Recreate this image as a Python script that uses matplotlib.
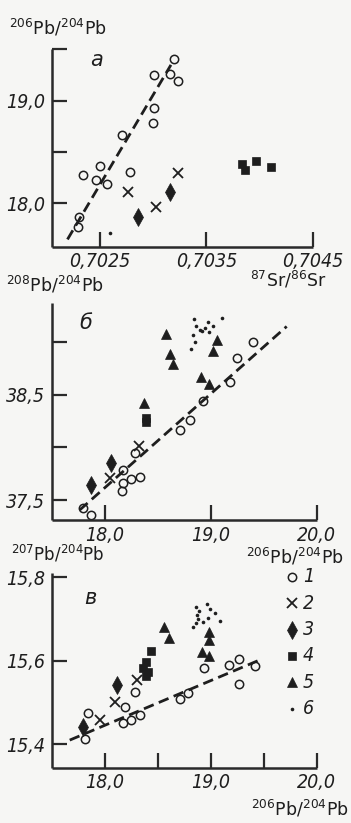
import matplotlib
matplotlib.use("Agg")
import matplotlib.pyplot as plt

plt.rcParams["font.family"] = ["DejaVu Sans"]
plt.rcParams["mathtext.fontset"] = "custom"
plt.rcParams["mathtext.rm"] = "Liberation Sans"

INK = "#1e1e1e"
BG = "#f6f6f4"

# ---- panel a: 206Pb/204Pb vs 87Sr/86Sr
a_x1 = [0.70320, 0.70301, 0.70316, 0.70323, 0.70301, 0.70300, 0.70271,
        0.70250, 0.70234, 0.70247, 0.70257, 0.70278, 0.70231, 0.70230]
a_y1 = [19.41, 19.245, 19.26, 19.19, 18.93, 18.78, 18.66,
        18.36, 18.27, 18.23, 18.19, 18.30, 17.86, 17.77]
a_x2 = [0.70277, 0.70303, 0.70323]
a_y2 = [18.11, 17.96, 18.29]
a_x3 = [0.70286, 0.70316]
a_y3 = [17.86, 18.11]
a_x4 = [0.70383, 0.70386, 0.70397, 0.70411]
a_y4 = [18.38, 18.32, 18.41, 18.35]
a_x6 = [0.70260]
a_y6 = [17.71]
a_trend_x = [0.702198, 0.703168]
a_trend_y = [17.646, 19.348]

# ---- panel b: 208Pb/204Pb vs 206Pb/204Pb
b_x1 = [17.795, 17.874, 18.167, 18.173, 18.173, 18.252, 18.331,
        18.284, 18.709, 18.803, 18.923, 19.181, 19.250, 19.402]
b_y1 = [37.42, 37.357, 37.589, 37.66, 37.786, 37.697, 37.716,
        37.945, 38.17, 38.26, 38.44, 38.62, 38.85, 39.00]
b_x2 = [18.047, 18.324]
b_y2 = [37.707, 38.01]
b_x3 = [17.874, 18.063]
b_y3 = [37.64, 37.855]
b_x4 = [18.39, 18.39]
b_y4 = [38.28, 38.24]
b_x5 = [18.37, 18.574, 18.614, 18.640, 18.910, 18.983, 19.061, 19.018]
b_y5 = [38.42, 39.08, 38.89, 38.79, 38.67, 38.60, 39.02, 38.92]
b_x6 = [18.841, 19.106, 18.976, 18.866, 19.023, 18.945,
        18.914, 18.986, 18.835, 18.851, 18.810, 18.898]
b_y6 = [39.224, 39.227, 39.189, 39.157, 39.157, 39.135,
        39.103, 39.094, 39.071, 38.998, 38.935, 39.112]
b_trend_x = [17.764, 19.717]
b_trend_y = [37.405, 39.15]

# ---- panel v: 207Pb/204Pb vs 206Pb/204Pb
c_x1 = [17.842, 17.81, 18.189, 18.173, 18.252, 18.331, 18.29,
        18.709, 18.787, 18.936, 19.175, 19.270, 19.421, 19.270]
c_y1 = [15.474, 15.412, 15.49, 15.452, 15.458, 15.470, 15.526,
        15.508, 15.522, 15.582, 15.589, 15.603, 15.587, 15.544]
c_x2 = [17.953, 18.095, 18.30]
c_y2 = [15.458, 15.502, 15.554]
c_x3 = [17.795, 18.116]
c_y3 = [15.442, 15.542]
c_x4 = [18.441, 18.394, 18.362, 18.409, 18.388]
c_y4 = [15.623, 15.598, 15.583, 15.574, 15.563]
c_x5 = [18.558, 18.608, 18.914, 18.986, 18.986, 18.986]
c_y5 = [15.680, 15.654, 15.621, 15.610, 15.669, 15.650]
c_x6 = [18.967, 18.860, 18.992, 19.040, 18.891, 18.872,
        18.976, 18.923, 18.860, 18.829, 19.087, 18.882]
c_y6 = [15.736, 15.728, 15.723, 15.713, 15.720, 15.709,
        15.701, 15.693, 15.691, 15.680, 15.695, 15.699]
c_trend_x = [17.67, 19.465]
c_trend_y = [15.41, 15.602]

legend_labels = ["1", "2", "3", "4", "5", "6"]

STYLES = [
    dict(marker="o", ms=6, mfc="none", mec=INK, mew=1.1),
    dict(marker="x", ms=7, mec=INK, mew=1.3),
    dict(marker="d", ms=9, mfc=INK, mec=INK, mew=0.5),
    dict(marker="s", ms=5.5, mfc=INK, mec=INK, mew=0.5),
    dict(marker="^", ms=6.5, mfc=INK, mec=INK, mew=0.5),
    dict(marker="o", ms=2.6, mfc=INK, mec=INK, mew=0),
]

W, H = 351, 823
fig = plt.figure(figsize=(W / 100, H / 100), dpi=100, facecolor=BG)

TICKFONT = dict(size=14, style="italic", stretch="condensed")


def box(x0, y_top, x1, y_bot):
    return [x0 / W, 1 - y_bot / H, (x1 - x0) / W, (y_bot - y_top) / H]


def fmt(v, nd):
    return f"{v:.{nd}f}".replace(".", ",")


def style_axes(ax):
    ax.set_facecolor(BG)
    for s in ("top", "right"):
        ax.spines[s].set_visible(False)
    for s in ("left", "bottom"):
        ax.spines[s].set_linewidth(1.8)
        ax.spines[s].set_color("#2a2a2a")
        ax.spines[s].set_capstyle("butt")
    ax.tick_params(direction="in", length=11, width=1.6, color="#2a2a2a",
                   labelcolor=INK)
    ax.tick_params(axis="y", pad=5)
    ax.tick_params(axis="x", pad=4)
    for lab in ax.get_xticklabels() + ax.get_yticklabels():
        lab.set_fontsize(TICKFONT["size"])
        lab.set_fontstyle(TICKFONT["style"])
        lab.set_fontstretch(TICKFONT["stretch"])


def scatter_all(ax, xs, ys):
    for (x, y), st in zip(zip(xs, ys), STYLES):
        if x:
            ax.plot(x, y, ls="none", clip_on=False, **st)


def trend(ax, x, y):
    ax.plot(x, y, color=INK, lw=2.0, dashes=(3.8, 2.0), solid_capstyle="butt")


def label(x, y, s, **kw):
    fig.text(x / W, 1 - y / H, s, color=INK, **kw)


PB = lambda a: r"$^{\mathregular{" + a + r"}}$Pb/$^{\mathregular{204}}$Pb"

# panel a
ax1 = fig.add_axes(box(51.7, 49.3, 313, 246.7))
trend(ax1, a_trend_x, a_trend_y)
scatter_all(ax1, [a_x1, a_x2, a_x3, a_x4, None, a_x6],
            [a_y1, a_y2, a_y3, a_y4, None, a_y6])
ax1.set_xlim(0.70205, 0.7045)
ax1.set_ylim(17.575, 19.5)
ax1.set_xticks([0.7025, 0.7035, 0.7045],
               [fmt(v, 4) for v in [0.7025, 0.7035, 0.7045]])
ax1.set_yticks([18.0, 18.5, 19.0, 19.5], ["18,0", "", "19,0", ""])
style_axes(ax1)

# panel b
ax2 = fig.add_axes(box(51.7, 303.3, 316.7, 520))
trend(ax2, b_trend_x, b_trend_y)
scatter_all(ax2, [b_x1, b_x2, b_x3, b_x4, b_x5, b_x6],
            [b_y1, b_y2, b_y3, b_y4, b_y5, b_y6])
ax2.set_xlim(17.5, 20.0)
ax2.set_ylim(37.31, 39.37)
ax2.set_xticks([18.0, 19.0, 20.0], ["18,0", "19,0", "20,0"])
ax2.set_yticks([37.5, 38.0, 38.5, 39.0], ["37,5", "", "38,5", ""])
style_axes(ax2)

# panel v
ax3 = fig.add_axes(box(51.7, 573.3, 316.7, 767.7))
trend(ax3, c_trend_x, c_trend_y)
scatter_all(ax3, [c_x1, c_x2, c_x3, c_x4, c_x5, c_x6],
            [c_y1, c_y2, c_y3, c_y4, c_y5, c_y6])
ax3.set_xlim(17.5, 20.0)
ax3.set_ylim(15.344, 15.809)
ax3.set_xticks([18.0, 18.5, 19.0, 19.5, 20.0], ["18,0", "", "19,0", "", "20,0"])
ax3.set_yticks([15.4, 15.6, 15.8], ["15,4", "15,6", "15,8"])
style_axes(ax3)

# axis titles
label(58, 28, PB("206"), fontsize=12.5, ha="center", va="center")
label(288, 280, r"$^{\mathregular{87}}$Sr/$^{\mathregular{86}}$Sr",
      fontsize=12.5, ha="center", va="center")
label(55, 285, PB("208"), fontsize=12.5, ha="center", va="center")
label(295, 557, PB("206"), fontsize=12.5, ha="center", va="center")
label(58, 554, PB("207"), fontsize=12, ha="center", va="center")
label(300, 809, PB("206"), fontsize=12.5, ha="center", va="center")

# panel letters
label(97, 60, "а", fontsize=15, style="italic", ha="center", va="center")
label(86, 323, "б", fontsize=15, style="italic", ha="center", va="center")
label(90, 598, "в", fontsize=15, style="italic", ha="center", va="center")

# legend
for i, (st, txt) in enumerate(zip(STYLES, legend_labels)):
    y = 577 + i * 26.3
    fig.add_artist(plt.Line2D([292 / W], [1 - y / H], ls="none", **st))
    label(303, y, txt, fontsize=14, style="italic", stretch="condensed",
          ha="left", va="center")

fig.savefig("out.png", dpi=100, facecolor=BG)
